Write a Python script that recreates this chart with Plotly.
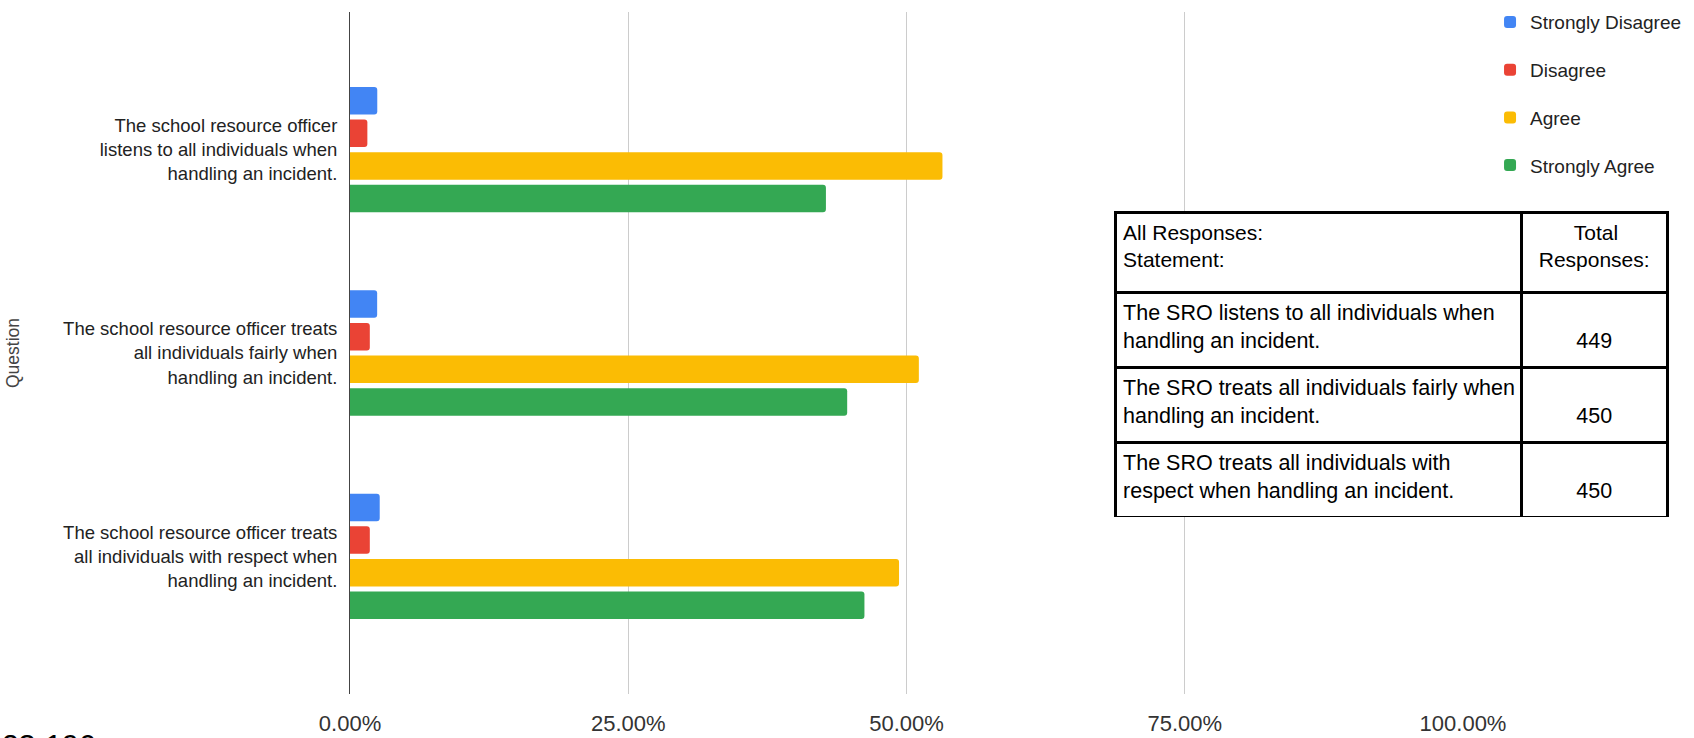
import plotly.graph_objects as go

# ---- data ----
questions = [
    "The school resource officer<br>listens to all individuals when<br>handling an incident.",
    "The school resource officer treats<br>all individuals fairly when<br>handling an incident.",
    "The school resource officer treats<br>all individuals with respect when<br>handling an incident.",
]
series_names = ["Strongly Disagree", "Disagree", "Agree", "Strongly Agree"]
strongly_disagree = [0.0245, 0.0244, 0.0267]
disagree = [0.0156, 0.0178, 0.0178]
agree = [0.5323, 0.5111, 0.4933]
strongly_agree = [0.4276, 0.4467, 0.4622]
series_colors = ["#4285F4", "#EA4335", "#FBBC04", "#34A853"]

x_tick_vals = [0, 0.25, 0.5, 0.75, 1.0]

table_header = ["All Responses:<br>Statement:",
                "\u00a0\u00a0\u00a0\u00a0\u00a0\u00a0Total<br>Responses:"]
table_statements = [
    "The SRO listens to all individuals when<br>handling an incident.",
    "The SRO treats all individuals fairly when<br>handling an incident.",
    "The SRO treats all individuals with<br>respect when handling an incident.",
]
table_totals = [449, 450, 450]

footer_text = "23-196"

FONT = "Liberation Sans, Arial, sans-serif"

fig = go.Figure()
for name, vals, col in zip(series_names,
                           [strongly_disagree, disagree, agree, strongly_agree],
                           series_colors):
    fig.add_trace(go.Bar(
        name=name, y=questions, x=vals, orientation="h",
        marker=dict(color=col, cornerradius=3, line=dict(width=0)),
        legendgroup=name,
        hovertemplate="%{x:.2%}<extra>" + name + "</extra>",
    ))

fig.add_trace(go.Table(
    domain=dict(x=[0.5735, 0.988], y=[0.2595, 0.7053]),
    columnwidth=[407, 146],
    header=dict(values=table_header, align=["left", "center"],
                fill_color="white", line=dict(color="black", width=3),
                font=dict(family=FONT, size=21, color="black"), height=80),
    cells=dict(values=[table_statements,
                       ["\u00a0<br>" + str(t) for t in table_totals]],
               align=["left", "center"], fill_color="white",
               line=dict(color="black", width=3),
               font=dict(family=FONT, size=21.5, color="black"), height=75),
))

fig.update_layout(
    width=1694, height=738,
    margin=dict(l=350, r=10, t=12, b=44, autoexpand=False),
    paper_bgcolor="white", plot_bgcolor="white",
    barmode="group", bargap=0.359, bargroupgap=0.156,
    font=dict(family=FONT, color="#222"),
    showlegend=True,
    legend=dict(x=0.8546, y=1.013, xanchor="left", yanchor="top",
                font=dict(family=FONT, size=19, color="#222"),
                traceorder="grouped", tracegroupgap=20,
                bgcolor="rgba(0,0,0,0)"),
    xaxis=dict(domain=[0, 0.83433], range=[0, 1.0], tickvals=x_tick_vals,
               tickformat=".2%", showgrid=True, gridcolor="#cccccc", gridwidth=1,
               zeroline=False, showline=False, ticks="",
               ticklabelstandoff=14,
               tickfont=dict(family=FONT, size=22, color="#333")),
    yaxis=dict(type="category", categoryorder="array", categoryarray=questions,
               range=[2.677, -0.677], autorange=False,
               showline=True, linecolor="#444", linewidth=1,
               showgrid=False, zeroline=False, ticks="",
               ticklabelstandoff=8,
               tickfont=dict(family=FONT, size=18.5, color="#222"),
               title=dict(text="Question", standoff=38,
                          font=dict(family=FONT, size=17.5, color="#444"))),
    annotations=[dict(text=footer_text, xref="paper", yref="paper",
                      x=-0.2624, y=-0.0475, xanchor="left", yanchor="top",
                      showarrow=False,
                      font=dict(family=FONT, size=30, color="black"))],
)

fig.write_html("out.html", config={"displayModeBar": False},
               post_script="document.body.style.margin='0';")
